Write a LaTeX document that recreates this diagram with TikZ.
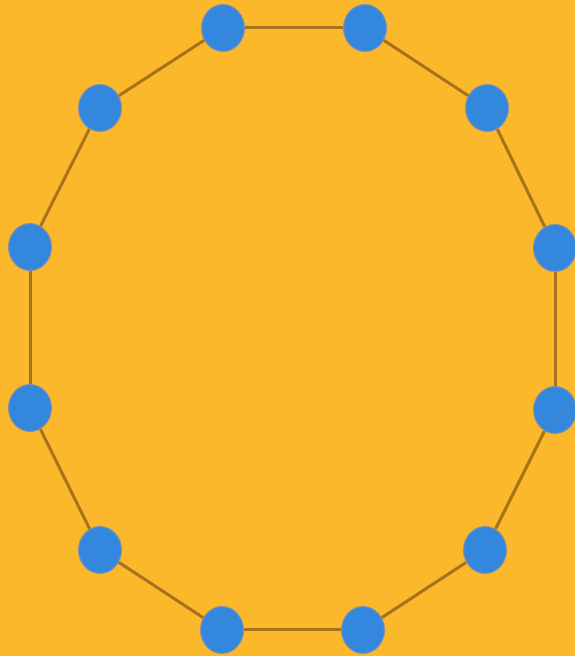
\documentclass[tikz,border=0pt]{standalone}
\usetikzlibrary{shapes.geometric}
\definecolor{bg}{HTML}{FBB82B}
\definecolor{nodefill}{HTML}{3388DD}
\definecolor{nodeborder}{HTML}{8A90A8}
\definecolor{edgecol}{HTML}{A8721A}
\tikzset{
  vtx/.style={ellipse, fill=nodefill, draw=nodeborder, line width=1pt, minimum width=43pt, minimum height=47pt, inner sep=0pt},
  edge/.style={draw=edgecol, line width=3pt}
}
\begin{document}
\begin{tikzpicture}[x=1pt,y=1pt]
\fill[bg] (0,0) rectangle (575,656);
\useasboundingbox (0,0) rectangle (575,656);
\node[vtx] (n1) at (223,628) {};
\node[vtx] (n2) at (365,628) {};
\node[vtx] (n3) at (487,548) {};
\node[vtx] (n4) at (555,408) {};
\node[vtx] (n5) at (555,246) {};
\node[vtx] (n6) at (485,106) {};
\node[vtx] (n7) at (363,26) {};
\node[vtx] (n8) at (222,26) {};
\node[vtx] (n9) at (100,106) {};
\node[vtx] (n10) at (30,248) {};
\node[vtx] (n11) at (30,409) {};
\node[vtx] (n12) at (100,548) {};
\foreach \a/\b in {n1/n2,n2/n3,n3/n4,n4/n5,n5/n6,n6/n7,n7/n8,n8/n9,n9/n10,n10/n11,n11/n12,n12/n1}
  \draw[edge] (\a) -- (\b);
\end{tikzpicture}
\end{document}
